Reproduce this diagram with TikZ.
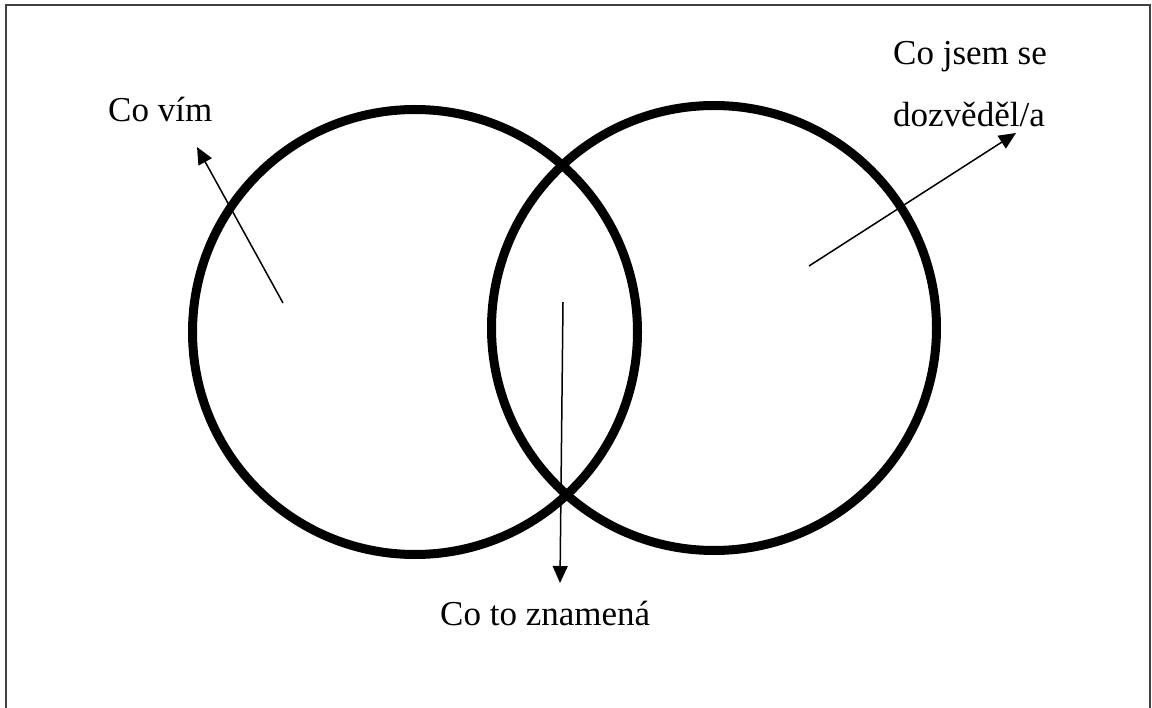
\documentclass[tikz,border=0pt]{standalone}
\usepackage{fontspec}
\setmainfont{Liberation Serif}
\usetikzlibrary{arrows.meta}
\begin{document}
\begin{tikzpicture}[x=1pt,y=-1pt,
  ring/.style={draw=black,line width=9pt,circle,minimum size=445pt,inner sep=0pt,outer sep=0pt},
  lbl/.style={font=\fontsize{35}{62}\selectfont,inner sep=0pt,anchor=base west,align=left},
  pointer/.style={line width=1.5pt,-{Triangle[length=17pt,width=15pt]}},
  frame/.style={draw=black!75,line width=2pt}]
\useasboundingbox (0,0) rectangle (1152,708);
\draw[frame] (5.5,708) -- (5.5,5.5) -- (1149.5,5.5) -- (1149.5,708);
\node[ring] (L) at (415,332) {};
\node[ring] (R) at (714,328) {};
\node[lbl] (know) at (108,122) {Co vím};
\node[lbl] (learn) at (893,127) {Co jsem se\\dozvěděl/a};
\node[lbl] (mean) at (440,625) {Co to znamená};
\coordinate (pL) at (283,303);
\coordinate (tL) at (197,147);
\coordinate (pR) at (809,266);
\coordinate (tR) at (1016,133);
\coordinate (pM) at (563,302);
\coordinate (tM) at (560,583);
\draw[pointer] (pL) -- (tL);
\draw[pointer] (pR) -- (tR);
\draw[pointer] (pM) -- (tM);
\end{tikzpicture}
\end{document}
